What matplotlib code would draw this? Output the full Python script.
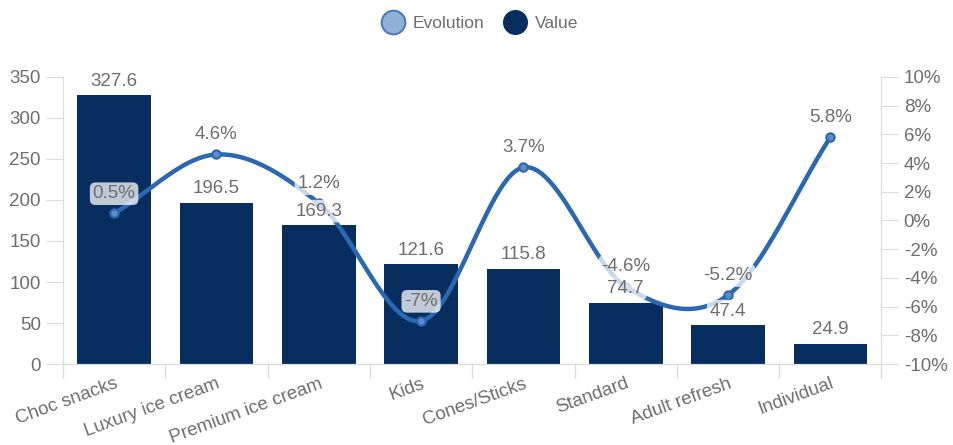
import numpy as np
import matplotlib
matplotlib.use("Agg")
import matplotlib.pyplot as plt
from matplotlib.lines import Line2D

categories = ["Choc snacks", "Luxury ice cream", "Premium ice cream", "Kids",
              "Cones/Sticks", "Standard", "Adult refresh", "Individual"]
values = [327.6, 196.5, 169.3, 121.6, 115.8, 74.7, 47.4, 24.9]
evolution = [0.5, 4.6, 1.2, -7, 3.7, -4.6, -5.2, 5.8]
value_ticks = [0, 50, 100, 150, 200, 250, 300, 350]
evo_ticks = [-10, -8, -6, -4, -2, 0, 2, 4, 6, 8, 10]

BAR = "#082e5f"
LINE = "#2b68b3"
TEXT = "#6e6e6e"
AXIS = "#dcdcdc"
FS = 13.5

plt.rcParams["font.family"] = ["Liberation Sans", "DejaVu Sans"]


def catmull_rom(x, y, n=30):
    # smooth curve passing through every point
    x = np.asarray(x, float)
    y = np.asarray(y, float)
    px = np.concatenate([[2 * x[0] - x[1]], x, [2 * x[-1] - x[-2]]])
    py = np.concatenate([[2 * y[0] - y[1]], y, [2 * y[-1] - y[-2]]])
    xs, ys = [], []
    t = np.linspace(0, 1, n)
    for i in range(1, len(px) - 2):
        for p, out in ((px, xs), (py, ys)):
            p0, p1, p2, p3 = p[i - 1], p[i], p[i + 1], p[i + 2]
            out.extend(0.5 * (2 * p1 + (-p0 + p2) * t
                              + (2 * p0 - 5 * p1 + 4 * p2 - p3) * t ** 2
                              + (-p0 + 3 * p1 - 3 * p2 + p3) * t ** 3))
    return np.array(xs), np.array(ys)


fig = plt.figure(figsize=(9.54, 4.45), dpi=100)
ax = fig.add_axes([0.066, 0.182, 0.858, 0.645])
ax2 = ax.twinx()

x = np.arange(len(categories))
ax.bar(x, values, width=0.72, color=BAR, zorder=2)

ax.set_xlim(-0.5, len(categories) - 0.5)
ax.set_ylim(0, 350)
ax.set_yticks(value_ticks)
ax.set_xticks(x)
ax.set_xticklabels(categories, rotation=20, ha="right", rotation_mode="anchor",
                   fontsize=FS, color=TEXT)
ax.set_xticks(np.arange(len(categories) + 1) - 0.5, minor=True)
ax.tick_params(axis="x", which="major", length=0, pad=8)
ax.tick_params(axis="x", which="minor", length=10, color=AXIS, width=1)
ax.tick_params(axis="y", length=12, color=AXIS, labelsize=FS, labelcolor=TEXT, pad=4)

ax2.set_ylim(-10, 10)
ax2.set_yticks(evo_ticks)
ax2.set_yticklabels([f"{t}%" for t in evo_ticks])
ax2.tick_params(axis="y", length=12, color=AXIS, labelsize=FS, labelcolor=TEXT, pad=4)

for a in (ax, ax2):
    a.spines["top"].set_visible(False)
    for s in ("left", "right", "bottom"):
        a.spines[s].set_color(AXIS)

cx, cy = catmull_rom(x, evolution)
ax2.plot(cx, cy, color=LINE, lw=3.2, zorder=3, solid_capstyle="round")
ax2.plot(x, evolution, "o", ms=6, mfc="#5d8cc7", mec=LINE, mew=1.5, zorder=4)

label_box = dict(boxstyle="round,pad=0.15,rounding_size=0.3",
                 fc="white", ec="none", alpha=0.75)

# bar value labels sit above the line, so draw them on the top axes
for xi, v in zip(x, values):
    ax2.annotate(f"{v}", (xi, v), xycoords=ax.transData, xytext=(0, 4),
                 textcoords="offset points", ha="center", va="bottom",
                 fontsize=FS, color=TEXT, zorder=5, bbox=label_box)

for xi, e in zip(x, evolution):
    ax2.annotate(f"{e:g}%", (xi, e), xytext=(0, 8), textcoords="offset points",
                 ha="center", va="bottom", fontsize=FS, color=TEXT, zorder=5,
                 bbox=label_box)

handles = [
    Line2D([], [], ls="none", marker="o", ms=17, mfc="#8fb1d8", mec="#4a7cbd", mew=1.5),
    Line2D([], [], ls="none", marker="o", ms=17, mfc=BAR, mec=BAR),
]
fig.legend(handles, ["Evolution", "Value"], loc="upper center",
           bbox_to_anchor=(0.5, 1.0), ncol=2, frameon=False, fontsize=12.5,
           labelcolor=TEXT, handletextpad=0.1, columnspacing=0.8)

fig.savefig("out.png", dpi=100)
